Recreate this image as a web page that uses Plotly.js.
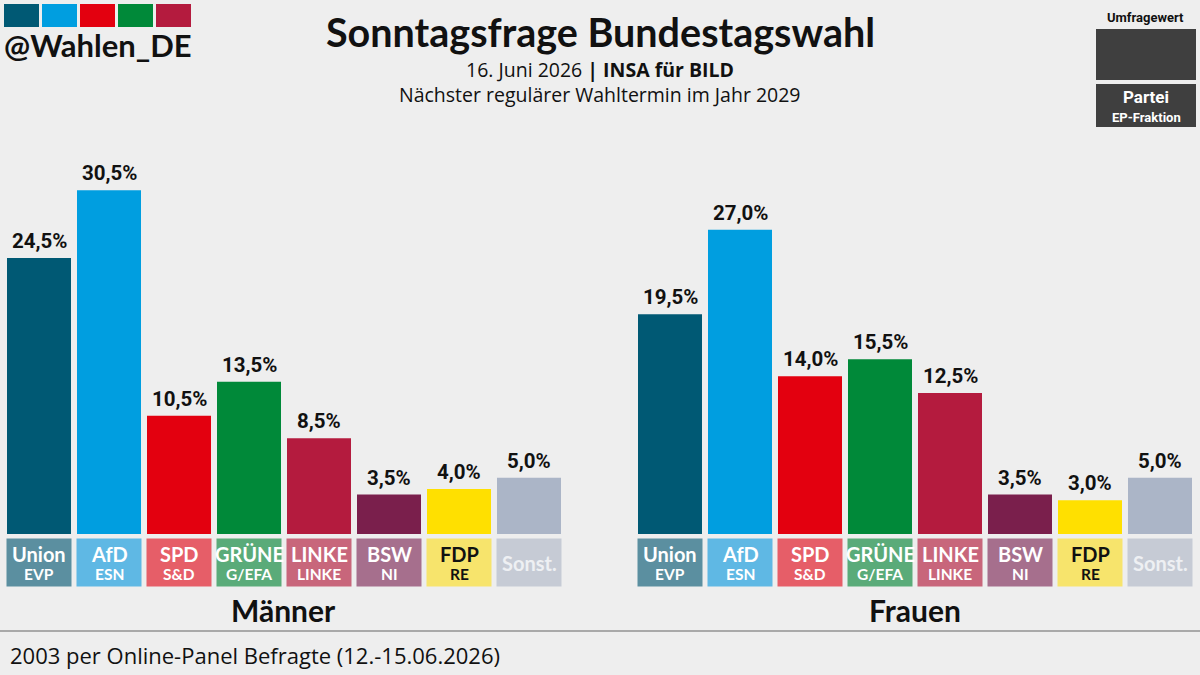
<!DOCTYPE html>
<html>
<head>
<meta charset="utf-8">
<script src="https://cdn.plot.ly/plotly-3.0.1.min.js"></script>
<style>
html,body{margin:0;padding:0;background:#eeeeee;}
#chart{width:1200px;height:675px;}
</style>
</head>
<body>
<div id="chart"></div>
<script>
// ---- data ----
const parties = ["Union", "AfD", "SPD", "GRÜNE", "LINKE", "BSW", "FDP", "Sonst."];
const fractions = ["EVP", "ESN", "S&D", "G/EFA", "LINKE", "NI", "RE", ""];
const maenner = [24.5, 30.5, 10.5, 13.5, 8.5, 3.5, 4.0, 5.0];
const frauen = [19.5, 27.0, 14.0, 15.5, 12.5, 3.5, 3.0, 5.0];
const groups = ["Männer", "Frauen"];
const barColors = ["#005974", "#009ee0", "#e3000f", "#008939", "#b41b3e", "#7a1f4c", "#ffe000", "#abb5c7"];
const boxColors = ["#5b8fa0", "#5fb8e4", "#e65e68", "#5aab79", "#c8667b", "#a66f8d", "#f7e46c", "#c6cbd5"];
const boxText = ["#ffffff", "#ffffff", "#ffffff", "#ffffff", "#ffffff", "#ffffff", "#111111", "#eef0f3"];
const title = "Sonntagsfrage Bundestagswahl";
const sub1 = "16. Juni 2026 <b>| INSA für BILD</b>";
const sub2 = "Nächster regulärer Wahltermin im Jahr 2029";
const footer = "2003 per Online-Panel Befragte (12.-15.06.2026)";
const logoColors = ["#005974", "#009ee0", "#e3000f", "#008939", "#b41b3e"];

const fmt = v => v.toFixed(1).replace(".", ",") + "%";
const H = 675, W = 1200;
const py = y => (H - y) / H;   // pixel -> paper y
const px = x => x / W;

const traces = [
  {type: "bar", x: parties, y: maenner, xaxis: "x", yaxis: "y",
   marker: {color: barColors, line: {width: 0}}, hoverinfo: "none"},
  {type: "bar", x: parties, y: frauen, xaxis: "x2", yaxis: "y2",
   marker: {color: barColors, line: {width: 0}}, hoverinfo: "none"}
];

const annotations = [];
const shapes = [];
const seriesList = [maenner, frauen];
const axNames = ["x", "x2"];
const yNames = ["y", "y2"];

seriesList.forEach((vals, s) => {
  vals.forEach((v, i) => {
    annotations.push({
      x: parties[i], y: v, xref: axNames[s], yref: yNames[s],
      text: "<b>" + fmt(v) + "</b>", showarrow: false,
      yanchor: "bottom", yshift: 3,
      font: {family: "Roboto", size: 20.5, color: "#111111"}
    });
    // label box background
    annotations.push({
      x: parties[i], y: py(562.5), xref: axNames[s], yref: "paper",
      text: " ", showarrow: false, yanchor: "middle", xanchor: "center",
      width: 64, height: 47, borderpad: 0, bgcolor: boxColors[i],
      font: {family: "Lato", size: 10, color: boxText[i]}
    });
    const hasFrac = fractions[i] !== "";
    annotations.push({
      x: parties[i], y: py(hasFrac ? 554 : 563), xref: axNames[s], yref: "paper",
      text: "<b>" + parties[i] + "</b>", showarrow: false, yanchor: "middle", xanchor: "center",
      font: {family: "Lato", size: 20, color: boxText[i]}
    });
    if (hasFrac) {
      annotations.push({
        x: parties[i], y: py(574), xref: axNames[s], yref: "paper",
        text: "<b>" + fractions[i] + "</b>", showarrow: false, yanchor: "middle", xanchor: "center",
        font: {family: "Lato", size: 15.5, color: boxText[i]}
      });
    }
  });
  annotations.push({
    x: 0.5, y: py(610), xref: axNames[s] + " domain", yref: "paper",
    text: "<b>" + groups[s] + "</b>", showarrow: false, yanchor: "middle", xanchor: "center",
    font: {family: "Lato", size: 30, color: "#111111"}
  });
});

// titles
annotations.push({x: 0.5, y: py(31), xref: "paper", yref: "paper", text: "<b>" + title + "</b>",
  showarrow: false, xanchor: "center", yanchor: "middle", font: {family: "Lato", size: 39.5, color: "#111111"}});
annotations.push({x: 0.5, y: py(69), xref: "paper", yref: "paper", text: sub1,
  showarrow: false, xanchor: "center", yanchor: "middle", font: {family: "Open Sans", size: 19.5, color: "#111111"}});
annotations.push({x: 0.5, y: py(94), xref: "paper", yref: "paper", text: sub2,
  showarrow: false, xanchor: "center", yanchor: "middle", font: {family: "Open Sans", size: 19.5, color: "#111111"}});
// footer
annotations.push({x: px(8), y: py(655), xref: "paper", yref: "paper", text: footer,
  showarrow: false, xanchor: "left", yanchor: "middle",
  font: {family: "Open Sans", size: 22, color: "#111111"}});
shapes.push({type: "line", xref: "paper", yref: "paper", x0: 0, x1: 1, y0: py(631), y1: py(631),
  line: {color: "#a9a9a9", width: 2}});
// logo
logoColors.forEach((c, i) => {
  shapes.push({type: "rect", xref: "paper", yref: "paper",
    x0: px(4 + i * 38), x1: px(39 + i * 38), y0: py(27), y1: py(4),
    fillcolor: c, line: {width: 0}});
});
annotations.push({x: px(2), y: py(45), xref: "paper", yref: "paper", text: "<b>@Wahlen_DE</b>",
  showarrow: false, xanchor: "left", yanchor: "middle",
  font: {family: "Lato", size: 31, color: "#111111"}});
// legend box
annotations.push({x: px(1145), y: py(17), xref: "paper", yref: "paper", text: "<b>Umfragewert</b>",
  showarrow: false, xanchor: "center", yanchor: "middle", font: {family: "Roboto", size: 13, color: "#111111"}});
shapes.push({type: "rect", xref: "paper", yref: "paper", x0: px(1096), x1: px(1196), y0: py(80), y1: py(29),
  fillcolor: "#3f3f3f", line: {width: 0}});
shapes.push({type: "rect", xref: "paper", yref: "paper", x0: px(1096), x1: px(1196), y0: py(127), y1: py(84),
  fillcolor: "#3f3f3f", line: {width: 0}});
annotations.push({x: px(1146), y: py(97), xref: "paper", yref: "paper", text: "<b>Partei</b>",
  showarrow: false, xanchor: "center", yanchor: "middle", font: {family: "Roboto", size: 17, color: "#ffffff"}});
annotations.push({x: px(1146), y: py(117), xref: "paper", yref: "paper", text: "<b>EP-Fraktion</b>",
  showarrow: false, xanchor: "center", yanchor: "middle", font: {family: "Roboto", size: 13, color: "#ffffff"}});

const yDom = [py(534), py(534 - 40 * 11.27)];
const axX = {type: "category", showgrid: false, zeroline: false, showline: false,
  showticklabels: false, ticks: "", range: [-0.5, 7.5], fixedrange: true};
const axY = {range: [0, 40], showgrid: false, zeroline: false, showline: false,
  showticklabels: false, ticks: "", domain: yDom, fixedrange: true};

const layout = {
  width: W, height: H,
  margin: {l: 0, r: 0, t: 0, b: 0},
  paper_bgcolor: "#eeeeee", plot_bgcolor: "rgba(0,0,0,0)",
  showlegend: false, bargap: 6 / 70,
  xaxis: Object.assign({}, axX, {domain: [px(4), px(564)], anchor: "y"}),
  xaxis2: Object.assign({}, axX, {domain: [px(635), px(1195)], anchor: "y2"}),
  yaxis: Object.assign({}, axY, {anchor: "x"}),
  yaxis2: Object.assign({}, axY, {anchor: "x2"}),
  annotations: annotations, shapes: shapes
};

Plotly.newPlot("chart", traces, layout, {staticPlot: true, displayModeBar: false});
</script>
</body>
</html>
